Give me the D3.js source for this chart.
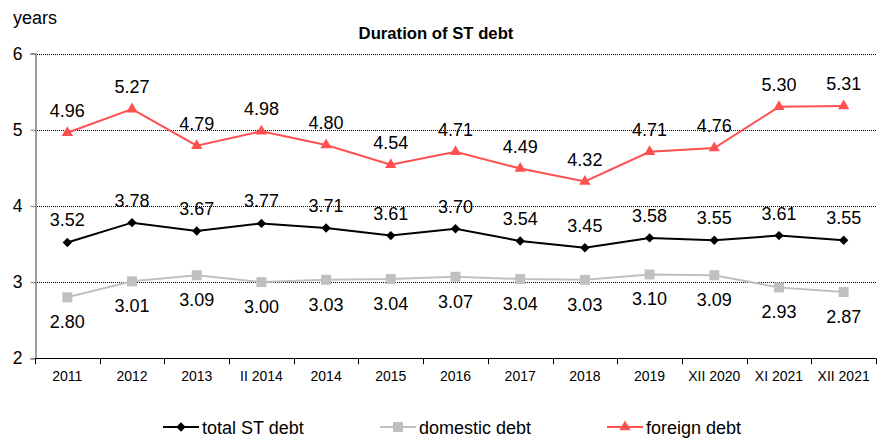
<!DOCTYPE html>
<html><head><meta charset="utf-8">
<script src="https://cdn.jsdelivr.net/npm/d3@7"></script>
<style>body{margin:0;background:#fff}svg{display:block;font-family:"Liberation Sans",Arial,sans-serif}</style>
</head><body><svg id="c" width="881" height="440"></svg>
<script>
const categories = ["2011","2012","2013","II 2014","2014","2015","2016","2017","2018","2019","XII 2020","XI 2021","XII 2021"];
const totalST = [3.52,3.78,3.67,3.77,3.71,3.61,3.70,3.54,3.45,3.58,3.55,3.61,3.55];
const domestic = [2.80,3.01,3.09,3.00,3.03,3.04,3.07,3.04,3.03,3.10,3.09,2.93,2.87];
const foreign = [4.96,5.27,4.79,4.98,4.80,4.54,4.71,4.49,4.32,4.71,4.76,5.30,5.31];
const yTicks = [2,3,4,5,6];

const svg = d3.select("#c");
const FF = "Liberation Sans, Arial, sans-serif";
const L = 35, R = 876, T = 53.5, B = 358.3;
const x = d3.scaleBand().domain(categories).range([L, R]);
const y = d3.scaleLinear().domain([2,6]).range([B, T]);
const cx = d => x(d) + x.bandwidth()/2;

// gridlines
svg.append("g").selectAll("line").data(yTicks.filter(v=>v>2)).join("line")
  .attr("x1", L).attr("x2", R).attr("y1", d=>Math.round(y(d))+0.5).attr("y2", d=>Math.round(y(d))+0.5)
  .attr("stroke", "#000").attr("stroke-width", 1).attr("stroke-dasharray", "1,1");

// y axis
const ya = svg.append("g").attr("transform", `translate(${L+0.5},0)`)
  .call(d3.axisLeft(y).tickValues(yTicks).tickFormat(d3.format("d")).tickSize(5).tickPadding(8));
ya.select(".domain").attr("stroke", "#808080").attr("stroke-width", 1.5);
ya.selectAll(".tick line").attr("stroke", "#808080");
ya.selectAll("text").attr("font-size", 17.5).attr("fill", "#000").attr("font-family", FF);

// x axis
const xa = svg.append("g").attr("transform", `translate(0,${Math.round(B)+0.5})`)
  .call(d3.axisBottom(x).tickSize(0).tickPadding(13));
xa.select(".domain").attr("stroke", "#000").attr("d", `M${L},0H${R}`);
xa.selectAll("text").attr("font-size", 14).attr("fill", "#000").attr("font-family", FF);
svg.append("g").selectAll("line").data(d3.range(categories.length+1)).join("line")
  .attr("x1", i => Math.round(L + i*x.bandwidth()) + 0.5).attr("x2", i => Math.round(L + i*x.bandwidth()) + 0.5)
  .attr("y1", B).attr("y2", B+6).attr("stroke", "#000");

// title and unit
svg.append("text").attr("x", 436).attr("y", 39).attr("text-anchor", "middle")
  .attr("font-size", 16.7).attr("font-weight", "bold").text("Duration of ST debt");
svg.append("text").attr("x", 13).attr("y", 24).attr("font-size", 18).text("years");

const diamond = {draw(ctx, size){ const r = Math.sqrt(size/2); ctx.moveTo(0,-r); ctx.lineTo(r,0); ctx.lineTo(0,r); ctx.lineTo(-r,0); ctx.closePath(); }};
const line = d3.line().x((d,i)=>cx(categories[i])).y(d=>y(d));
const series = [
  {name:"total ST debt", data: totalST, color:"#000", sym: diamond, size: 44, dy: -16},
  {name:"domestic debt", data: domestic, color:"#c0c0c0", sym: d3.symbolSquare, size: 100, dy: 31},
  {name:"foreign debt", data: foreign, color:"#ff5050", sym: d3.symbolTriangle, size: 55, dy: -16}
];
series.forEach(s => {
  svg.append("path").datum(s.data).attr("d", line).attr("fill","none").attr("stroke", s.color).attr("stroke-width", 2);
  svg.append("g").selectAll("path").data(s.data).join("path")
    .attr("transform", (d,i)=>`translate(${cx(categories[i])},${y(d)})`)
    .attr("d", d3.symbol().type(s.sym).size(s.size)).attr("fill", s.color);
  svg.append("g").selectAll("text").data(s.data).join("text")
    .attr("x", (d,i)=>cx(categories[i])).attr("y", d=>y(d)+s.dy)
    .attr("text-anchor","middle").attr("font-size", 18).attr("fill","#000")
    .text(d=>d.toFixed(2));
});

// legend
const legX = [163, 380, 607];
series.forEach((s,i) => {
  const g = svg.append("g").attr("transform", `translate(${legX[i]},427)`);
  g.append("line").attr("x1",0).attr("x2",36).attr("stroke", s.color).attr("stroke-width",2);
  g.append("path").attr("transform","translate(18,0)").attr("d", d3.symbol().type(s.sym).size(s.size)).attr("fill", s.color);
  g.append("text").attr("x", 39).attr("y", 7).attr("font-size", 18).text(s.name);
});
</script></body></html>
